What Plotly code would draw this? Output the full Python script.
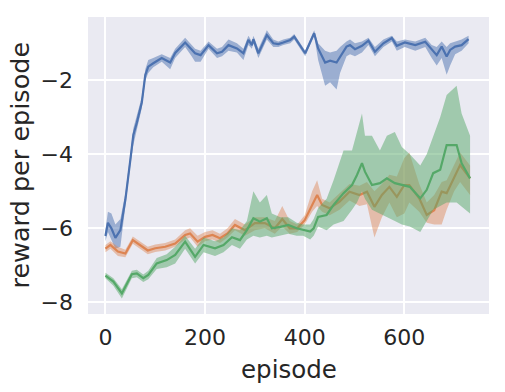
import plotly.graph_objects as go

# ---- data ----
blue_ep = [0, 5, 12, 20, 30, 40, 50, 56, 63, 73, 80, 86, 96, 113, 130, 140, 160, 173, 180, 191,
           207, 224, 234, 247, 264, 277, 287, 294, 297, 307, 324, 337, 347, 357, 371, 379, 401,
           419, 427, 441, 451, 464, 471, 484, 491, 501, 515, 528, 541, 558, 575, 585, 601, 622,
           642, 655, 665, 675, 685, 692, 702, 715, 729]
blue_mean = [-6.21, -5.85, -6.0, -6.26, -6.05, -5.23, -4.15, -3.48, -3.15, -2.6, -1.86, -1.63, -1.54,
             -1.40, -1.52, -1.26, -0.98, -1.18, -1.27, -1.32, -1.05, -1.27, -1.23, -1.05, -1.14,
             -1.27, -0.91, -1.05, -0.89, -1.27, -0.78, -1.0, -1.02, -0.98, -0.91, -0.82, -1.27,
             -0.73, -1.14, -1.52, -1.47, -1.52, -1.36, -1.09, -1.05, -1.16, -1.07, -0.93, -1.23,
             -1.0, -0.86, -1.07, -0.98, -1.05, -0.96, -1.18, -1.32, -1.09, -1.36, -1.18, -1.09,
             -1.05, -0.89]
blue_lo = [-6.35, -6.1, -6.3, -6.55, -6.5, -5.4, -4.3, -3.75, -3.3, -2.75, -2.0, -1.8, -1.65, -1.5,
           -1.7, -1.4, -1.1, -1.35, -1.5, -1.5, -1.15, -1.4, -1.35, -1.2, -1.25, -1.45, -1.05,
           -1.15, -1.0, -1.4, -0.9, -1.1, -1.1, -1.05, -1.0, -0.9, -1.35, -0.8, -1.45, -2.15,
           -2.05, -2.25, -1.8, -1.35, -1.3, -1.35, -1.25, -1.05, -1.35, -1.1, -0.95, -1.2, -1.1,
           -1.2, -1.1, -1.4, -1.6, -1.4, -1.85, -1.6, -1.3, -1.2, -1.0]
blue_hi = [-6.05, -5.55, -5.6, -5.9, -5.75, -5.05, -4.0, -3.3, -2.95, -2.45, -1.7, -1.45, -1.4, -1.3,
           -1.4, -1.15, -0.85, -1.05, -1.15, -1.2, -0.95, -1.15, -1.1, -0.9, -1.0, -1.15, -0.8,
           -0.95, -0.8, -1.15, -0.65, -0.9, -0.95, -0.9, -0.85, -0.75, -1.2, -0.65, -1.0, -1.2,
           -1.25, -1.2, -1.1, -0.95, -0.9, -1.0, -0.95, -0.85, -1.1, -0.9, -0.8, -0.95, -0.9,
           -0.95, -0.85, -1.05, -1.1, -0.95, -1.1, -1.0, -0.95, -0.9, -0.8]

orange_ep = [0, 10, 25, 40, 55, 70, 85, 100, 120, 140, 160, 170, 185, 200, 215, 230, 245, 260, 280,
             300, 320, 340, 355, 370, 385, 400, 415, 425, 435, 450, 470, 490, 510, 525, 540, 555,
             570, 585, 600, 610, 630, 645, 660, 675, 685, 700, 712, 732]
orange_mean = [-6.55, -6.45, -6.63, -6.68, -6.32, -6.45, -6.6, -6.54, -6.5, -6.41, -6.18, -6.14,
               -6.36, -6.23, -6.18, -6.27, -6.14, -5.91, -6.05, -5.86, -5.86, -6.0, -5.75, -6.0,
               -6.0, -5.78, -5.37, -5.1, -5.37, -5.46, -5.28, -5.01, -5.1, -5.01, -5.42, -5.1,
               -4.88, -5.15, -4.83, -4.83, -5.19, -5.64, -5.51, -5.01, -5.05, -4.65, -4.29, -4.65]
orange_lo = [-6.65, -6.55, -6.75, -6.78, -6.42, -6.55, -6.7, -6.64, -6.6, -6.5, -6.3, -6.25, -6.5,
             -6.35, -6.3, -6.4, -6.25, -6.05, -6.2, -6.05, -6.0, -6.15, -5.95, -6.15, -6.1, -5.9,
             -5.55, -5.4, -5.55, -5.65, -5.5, -5.25, -5.4, -5.35, -6.25, -5.7, -5.3, -5.7, -5.6,
             -5.3, -5.55, -5.85, -5.9, -5.9, -5.5, -5.0, -4.75, -5.1]
orange_hi = [-6.45, -6.35, -6.5, -6.58, -6.22, -6.35, -6.5, -6.44, -6.4, -6.3, -6.05, -6.0, -6.2,
             -6.1, -6.05, -6.15, -6.0, -5.75, -5.9, -5.7, -5.7, -5.8, -5.4, -5.8, -5.9, -5.65,
             -5.0, -4.7, -5.2, -5.3, -5.05, -4.8, -4.85, -4.75, -5.0, -4.8, -4.55, -4.6, -4.1,
             -3.95, -4.8, -5.3, -5.1, -4.75, -4.7, -4.3, -3.95, -4.3]

green_ep = [0, 16, 33, 53, 63, 76, 86, 103, 123, 140, 160, 180, 197, 220, 237, 254, 270, 284, 297,
            310, 324, 334, 351, 367, 384, 397, 411, 418, 427, 444, 458, 478, 495, 505, 515, 521,
            535, 551, 565, 581, 595, 611, 632, 645, 658, 672, 685, 705, 715, 732]
green_mean = [-7.28, -7.44, -7.76, -7.24, -7.22, -7.35, -7.26, -6.95, -6.86, -6.72, -6.36, -6.77,
              -6.45, -6.54, -6.45, -6.24, -6.32, -6.05, -5.73, -5.82, -5.73, -6.0, -5.96, -5.91,
              -6.0, -6.05, -6.09, -6.0, -5.69, -5.64, -5.37, -5.05, -4.83, -4.56, -4.24, -4.47,
              -4.83, -4.78, -4.65, -4.78, -4.83, -4.88, -5.19, -4.96, -4.51, -4.42, -3.75, -3.75,
              -4.24, -4.65]
green_lo = [-7.35, -7.55, -7.9, -7.35, -7.32, -7.45, -7.38, -7.1, -7.05, -6.95, -6.55, -6.95, -6.65,
            -6.75, -6.65, -6.45, -6.55, -6.3, -6.2, -6.25, -6.2, -6.25, -6.2, -6.15, -6.2, -6.2,
            -6.3, -6.2, -5.95, -6.05, -5.9, -5.8, -5.5, -5.3, -5.0, -5.2, -5.5, -5.6, -5.7, -5.8,
            -5.9, -5.95, -6.1, -5.8, -5.5, -5.4, -5.3, -5.3, -5.4, -5.6]
green_hi = [-7.2, -7.35, -7.65, -7.15, -7.12, -7.25, -7.15, -6.8, -6.7, -6.5, -6.2, -6.55, -6.25,
            -6.35, -6.25, -6.0, -6.05, -5.8, -5.0, -5.3, -5.1, -5.6, -5.7, -5.7, -5.85, -5.9,
            -5.9, -5.75, -5.45, -5.2, -4.7, -3.9, -3.9, -3.4, -2.9, -3.5, -3.5, -3.9, -3.5, -3.4,
            -3.8, -4.0, -4.3, -4.0, -3.5, -3.0, -2.4, -2.15, -2.9, -3.5]

x_ticks = [0, 200, 400, 600]
y_ticks = [-8, -6, -4, -2]

series = [
    (blue_ep, blue_mean, blue_lo, blue_hi, "#4c72b0", "rgba(76,114,176,0.5)"),
    (orange_ep, orange_mean, orange_lo, orange_hi, "#dd8452", "rgba(221,132,82,0.45)"),
    (green_ep, green_mean, green_lo, green_hi, "#55a868", "rgba(85,168,104,0.5)"),
]

fig = go.Figure()
for ep, mean, lo, hi, col, fcol in series:
    fig.add_trace(go.Scatter(x=ep + ep[::-1], y=hi + lo[::-1], fill="toself", fillcolor=fcol,
                             line=dict(width=0), mode="lines", hoverinfo="skip", showlegend=False))
    fig.add_trace(go.Scatter(x=ep, y=mean, mode="lines", line=dict(color=col, width=2.2),
                             showlegend=False))

FONT = "DejaVu Sans"
TXT = "#262626"
fig.update_layout(
    width=505, height=392,
    margin=dict(l=88, r=16, t=17, b=78, autoexpand=False),
    paper_bgcolor="white", plot_bgcolor="#eaeaf2",
    font=dict(family=FONT, size=22, color=TXT),
    showlegend=False,
)
fig.update_xaxes(range=[-35, 770], tickvals=x_ticks, showgrid=True, gridcolor="white", gridwidth=1.6,
                 zeroline=False, showline=False, ticks="", ticklabelstandoff=8, automargin=False,
                 tickfont=dict(family=FONT, size=22, color=TXT))
fig.update_yaxes(range=[-8.316, -0.29], tickvals=y_ticks, showgrid=True, gridcolor="white", gridwidth=1.6,
                 zeroline=False, showline=False, ticks="", ticklabelstandoff=14, automargin=False,
                 tickfont=dict(family=FONT, size=22, color=TXT))
fig.add_annotation(text="episode", xref="paper", yref="paper", x=0.5, y=0, yshift=-55,
                   showarrow=False, font=dict(family=FONT, size=24.5, color=TXT), yanchor="middle")
fig.add_annotation(text="reward per episode", xref="paper", yref="paper", x=0, y=0.5, xshift=-69,
                   textangle=-90, showarrow=False, font=dict(family=FONT, size=25.5, color=TXT),
                   xanchor="center")
# remove the default page margin so the 505x392 figure fills the window exactly
fig.write_html("out.html", config={"displayModeBar": False},
               post_script="document.body.style.margin='0px';document.body.style.overflow='hidden';")
